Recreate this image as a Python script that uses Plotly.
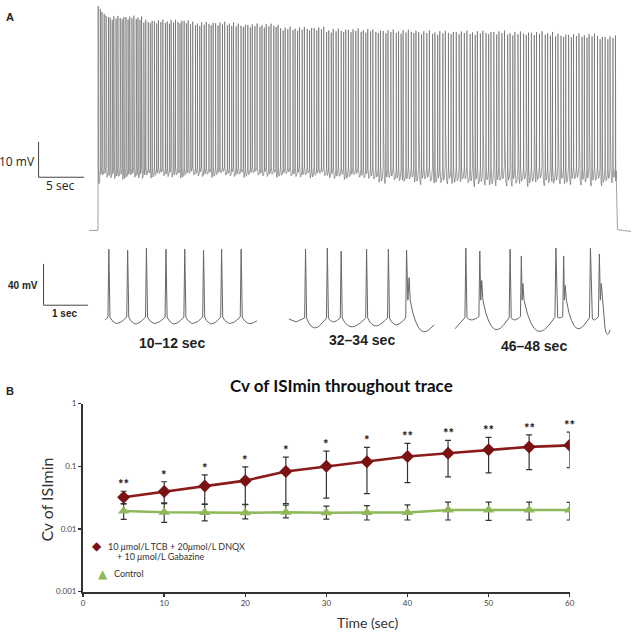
import numpy as np
import plotly.graph_objects as go

W, H = 637, 636

# ---------------- Panel A: long trace (block summaries) ----------------
MAIN_BLOCK_START_S = [0, 5, 10, 15, 20, 25, 30, 35, 40, 45, 50, 55]
MAIN_RATE_HZ = [4.6, 4.3, 4.0, 3.9, 3.8, 3.7, 3.6, 3.4, 3.4, 3.4, 3.5, 3.5]
MAIN_PEAK_MV = [-10.0, -11.1, -11.7, -12.2, -13.1, -13.6, -13.9, -14.2, -14.2, -14.4, -15.0, -15.6]
MAIN_TROUGH_MV = [-54.8, -54.4, -54.2, -54.2, -54.4, -54.8, -55.6, -56.0, -56.4, -56.2, -56.0, -56.0]
MAIN_DOUBLET_EVERY = [0, 0, 0, 0, 0, 0, 7, 5, 4, 3, 4, 4]
MAIN_FIRST_PEAKS_MV = [-6.7, -7.5, -8.3, -8.9, -9.4, -9.8]
MAIN_THRESHOLD_MV = -52.2
MAIN_SPIKELET_MV = -31.0
MAIN_REST_MV = -70.0
MAIN_STIM_END_S = 57.0
JITTER = [0.3, -0.8, 0.6, -0.2, 1.0, -0.6, 0.1, -1.0, 0.7, -0.4, 0.9, -0.1, -0.7, 0.4]

# ---------------- Panel A: insets (spike times, peaks, troughs, thresholds) ----------------
INSET1_T = [10.04, 10.29, 10.54, 10.80, 11.05, 11.30, 11.54, 11.80]
INSET1_PEAK = [11.4, 10.5, 12.4, 11.4, 11.4, 10.5, 11.4, 11.4]
INSET1_TROUGH = [-60.5, -61.0, -60.5, -61.0, -60.5, -61.0, -60.5, -60.5]
INSET1_THR = [-54.3, -54.3, -54.3, -54.3, -54.3, -54.3, -54.3, -54.3]

INSET2_T = [32.23, 32.53, 32.72, 33.07, 33.37, 33.62, 33.655]
INSET2_PEAK = [11.4, 12.4, 9.5, 11.4, 11.4, 10.5, -16.2]
INSET2_TROUGH = [-64.8, -59.0, -63.8, -62.9, -61.9, -38.0, -66.7]
INSET2_THR = [-55.2, -55.2, -55.2, -55.2, -55.2, -55.2, -38.0]

INSET3_T = [46.14, 46.32, 46.345, 46.71, 46.855, 46.875, 47.30, 47.40, 47.42, 47.745, 47.86, 47.885]
INSET3_PEAK = [12.4, 9.5, -19.0, 11.4, 4.8, -21.9, 12.4, 4.8, -23.8, 12.4, 6.7, -21.9]
INSET3_TROUGH = [-57.1, -38.0, -65.7, -57.1, -38.0, -67.6, -55.2, -38.0, -64.8, -57.1, -38.0, -68.6]
INSET3_THR = [-55.0, -54.0, -38.0, -55.0, -54.0, -38.0, -54.5, -54.0, -38.0, -55.0, -54.0, -38.0]

# ---------------- Panel B data ----------------
TIME_S = [5, 10, 15, 20, 25, 30, 35, 40, 45, 50, 55, 60]
DRUG_CV = [0.032, 0.0395, 0.0485, 0.059, 0.0825, 0.100, 0.118, 0.1435, 0.162, 0.183, 0.204, 0.216]
DRUG_HI = [0.040, 0.0567, 0.073, 0.0977, 0.140, 0.174, 0.201, 0.232, 0.259, 0.289, 0.318, 0.351]
DRUG_LO = [0.025, 0.026, 0.0247, 0.0247, 0.0253, 0.031, 0.0367, 0.0547, 0.068, 0.0786, 0.0887, 0.0953]
CTRL_CV = [0.0194, 0.0185, 0.0183, 0.0181, 0.0185, 0.0181, 0.0183, 0.0183, 0.0201, 0.0201, 0.0201, 0.0201]
CTRL_HI = [0.0253, 0.0253, 0.0250, 0.0245, 0.0240, 0.0232, 0.0236, 0.0242, 0.0269, 0.0269, 0.0269, 0.0266]
CTRL_LO = [0.0142, 0.0127, 0.0135, 0.0145, 0.0150, 0.0144, 0.0139, 0.0139, 0.0139, 0.0137, 0.0139, 0.0139]
STARS = ["**", "*", "*", "*", "*", "*", "*", "**", "**", "**", "**", "**"]
XTICK_VALS = [0, 10, 20, 30, 40, 50, 60]
YTICK_VALS = [0.001, 0.01, 0.1, 1]
YTICK_TEXT = ["0.001", "0.01", "0.1", "1"]
DRUG_NAME = "10 <i>μ</i>mol/L TCB + 20<i>μ</i>mol/L DNQX"
DRUG_NAME2 = "+ 10 <i>μ</i>mol/L Gabazine"
CTRL_NAME = "Control"


def pxx(x):
    return x / W


def pxy(y):
    return 1 - y / H


def wave(times, peaks, troughs, thrs, start_pts, end_pt, rise, fall, n_u):
    xs = [p[0] for p in start_pts]
    ys = [p[1] for p in start_pts]
    n = len(times)
    skip_pre = False
    for i in range(n):
        if not skip_pre:
            xs.append(times[i] - rise)
            ys.append(thrs[i])
        skip_pre = False
        xs.append(times[i])
        ys.append(peaks[i])
        if i + 1 < n and times[i + 1] - times[i] < 0.05:
            xs.append(0.5 * (times[i] + times[i + 1]))
            ys.append(troughs[i])
            skip_pre = True
            continue
        ta = times[i] + fall
        if i + 1 < n:
            tb, vb = times[i + 1] - rise, thrs[i + 1]
        else:
            tb, vb = end_pt
        va = thrs[i]
        s = np.linspace(0, 1, n_u + 2)
        lin = va + (vb - va) * s
        shp = np.sin(np.pi * s ** 0.8)
        d = max(0.0, (va + (vb - va) * 0.42) - troughs[i])
        v = lin - d * shp
        xs += list(ta + (tb - ta) * s[:-1])
        ys += list(v[:-1])
    xs.append(end_pt[0])
    ys.append(end_pt[1])
    return xs, ys


# ---- build main trace spike lists from block summaries ----
m_t, m_pk, m_tr, m_th = [], [], [], []
t = 0.03
k = 0
while t < MAIN_STIM_END_S - 0.1:
    b = min(int(t // 5), len(MAIN_BLOCK_START_S) - 1)
    j = JITTER[k % len(JITTER)]
    j2 = JITTER[(k * 5 + 3) % len(JITTER)]
    pk = MAIN_FIRST_PEAKS_MV[k] if k < len(MAIN_FIRST_PEAKS_MV) else MAIN_PEAK_MV[b] + 0.6 * j
    tr = -57.0 if k == 0 else MAIN_TROUGH_MV[b] + 0.9 * j2
    m_t.append(t)
    m_pk.append(pk)
    m_th.append(MAIN_THRESHOLD_MV + 0.5 * j)
    every = MAIN_DOUBLET_EVERY[b]
    if every and k % every == 0 and k > 0:
        m_tr.append(-42.0)
        m_t.append(t + 0.03)
        m_pk.append(MAIN_SPIKELET_MV + 2.0 * j2)
        m_th.append(-42.0)
        m_tr.append(tr - 0.8)
    else:
        m_tr.append(tr)
    t += (1.0 / MAIN_RATE_HZ[b]) * (1 + 0.2 * j)
    k += 1

mx, my = wave(m_t, m_pk, m_tr, m_th,
              [(-0.98, MAIN_REST_MV), (0.0, MAIN_REST_MV)],
              (MAIN_STIM_END_S - 0.05, MAIN_THRESHOLD_MV - 1.0),
              0.01, 0.015, 2)
mx += [MAIN_STIM_END_S + 0.1, 58.6]
my += [MAIN_REST_MV + 0.2, MAIN_REST_MV - 0.3]

i1x, i1y = wave(INSET1_T, INSET1_PEAK, INSET1_TROUGH, INSET1_THR,
                [(9.99, -57.1)], (12.01, -58.0), 0.012, 0.015, 8)
i2x, i2y = wave(INSET2_T, INSET2_PEAK, INSET2_TROUGH, INSET2_THR,
                [(32.0, -56.2), (32.1, -59.0)], (34.0, -61.9), 0.012, 0.015, 8)
i3x, i3y = wave(INSET3_T, INSET3_PEAK, INSET3_TROUGH, INSET3_THR,
                [(46.0, -65.7), (46.07, -60.0)], (48.0, -66.7), 0.012, 0.015, 8)

fig = go.Figure()
fig.add_trace(go.Scatter(x=mx, y=my, mode="lines", line=dict(color="#606060", width=0.6),
                         xaxis="x", yaxis="y", hoverinfo="skip", showlegend=False))
for ax, xx, yy in [("2", i1x, i1y), ("3", i2x, i2y), ("4", i3x, i3y)]:
    fig.add_trace(go.Scatter(x=xx, y=yy, mode="lines", line=dict(color="#666", width=1),
                             xaxis="x" + ax, yaxis="y" + ax, hoverinfo="skip", showlegend=False))

# Panel B series
red_line = "#8b1a1a"
red_mark = "#7a1214"
green = "#8fb85a"
fig.add_trace(go.Scatter(
    x=TIME_S, y=DRUG_CV, mode="lines+markers", xaxis="x5", yaxis="y5",
    line=dict(color=red_line, width=2.6),
    marker=dict(symbol="diamond", size=10, color=red_mark),
    error_y=dict(type="data", symmetric=False,
                 array=[h - v for h, v in zip(DRUG_HI, DRUG_CV)],
                 arrayminus=[v - l for v, l in zip(DRUG_CV, DRUG_LO)],
                 color="#333333", thickness=1.2, width=3),
    showlegend=False))
fig.add_trace(go.Scatter(
    x=TIME_S, y=CTRL_CV, mode="lines+markers", xaxis="x5", yaxis="y5",
    line=dict(color=green, width=2.6),
    marker=dict(symbol="triangle-up", size=10, color=green),
    error_y=dict(type="data", symmetric=False,
                 array=[h - v for h, v in zip(CTRL_HI, CTRL_CV)],
                 arrayminus=[v - l for v, l in zip(CTRL_CV, CTRL_LO)],
                 color="#333333", thickness=1.2, width=3),
    showlegend=False))


def mv_main(p):
    return MAIN_REST_MV + (229 - p) / 3.6


def mv_inset(p):
    return -60 - (p - 323) / 1.05


hidden = dict(visible=False, showgrid=False, zeroline=False, fixedrange=True)
layout = dict(
    width=W, height=H, margin=dict(l=0, r=0, t=0, b=0), autosize=False,
    paper_bgcolor="white", plot_bgcolor="rgba(0,0,0,0)", showlegend=False,
    xaxis=dict(hidden, domain=[pxx(88), pxx(636)], range=[(88 - 97) / 9.2, (636 - 97) / 9.2], anchor="y"),
    yaxis=dict(hidden, domain=[pxy(236), pxy(0)], range=[mv_main(236), mv_main(0)], anchor="x"),
    xaxis2=dict(hidden, domain=[pxx(104), pxx(258)], range=[10 + (104 - 105) / 76, 10 + (258 - 105) / 76], anchor="y2"),
    yaxis2=dict(hidden, domain=[pxy(336), pxy(244)], range=[mv_inset(336), mv_inset(244)], anchor="x2"),
    xaxis3=dict(hidden, domain=[pxx(289), pxx(438)], range=[32 + (289 - 290) / 73.5, 32 + (438 - 290) / 73.5], anchor="y3"),
    yaxis3=dict(hidden, domain=[pxy(336), pxy(244)], range=[mv_inset(336), mv_inset(244)], anchor="x3"),
    xaxis4=dict(hidden, domain=[pxx(457), pxx(616)], range=[46 + (457 - 458) / 78.5, 46 + (616 - 458) / 78.5], anchor="y4"),
    yaxis4=dict(hidden, domain=[pxy(336), pxy(244)], range=[mv_inset(336), mv_inset(244)], anchor="x4"),
    xaxis5=dict(domain=[pxx(82), pxx(574)], range=[0, 60], anchor="y5", tickvals=XTICK_VALS,
                showline=True, linewidth=2, linecolor="#333", ticks="outside", ticklen=3, tickwidth=1.5,
                tickcolor="#333", showgrid=False, zeroline=False,
                tickfont=dict(family="Lato", size=8, color="#444")),
    yaxis5=dict(domain=[pxy(596), pxy(405)], type="log", range=[-3, 0], anchor="x5",
                tickvals=YTICK_VALS, ticktext=YTICK_TEXT,
                showline=True, linewidth=2, linecolor="#333", ticks="outside", ticklen=3, tickwidth=1.5,
                tickcolor="#333", showgrid=False, zeroline=False,
                tickfont=dict(family="Lato", size=8, color="#444")),
)
fig.update_layout(**layout)

shapes = []
bar = dict(color="#444", width=1)
for x0, y0, x1, y1 in [(37, 139, 37, 175), (37, 175, 83, 175), (42, 263, 42, 305), (42, 305, 87, 305)]:
    shapes.append(dict(type="line", xref="paper", yref="paper", x0=pxx(x0), y0=pxy(y0),
                       x1=pxx(x1), y1=pxy(y1), line=bar))
fig.update_layout(shapes=shapes)

ann = []


def add_text(text, x, y, size, family, color="#222", xanchor="center", bold=False, angle=0):
    ann.append(dict(text=("<b>%s</b>" % text) if bold else text, x=pxx(x), y=pxy(y),
                    xref="paper", yref="paper", showarrow=False, xanchor=xanchor, yanchor="middle",
                    textangle=angle, font=dict(family=family, size=size, color=color)))


add_text("A", 2, 12, 11, "Liberation Sans", xanchor="left", bold=True)
add_text("B", 2, 392, 11, "Liberation Sans", xanchor="left", bold=True)
add_text("10 mV", 35, 159, 12, "Open Sans", xanchor="right", color="#222")
add_text("5 sec", 59, 183, 12, "Open Sans", color="#222")
add_text("40 mV", 38, 285, 10, "Liberation Sans", xanchor="right", bold=True)
add_text("1 sec", 63, 313, 10, "Liberation Sans", bold=True)
add_text("10–12 sec", 172, 343, 14, "Liberation Sans", bold=True)
add_text("32–34 sec", 364, 340, 14, "Liberation Sans", bold=True)
add_text("46–48 sec", 538, 346, 14, "Liberation Sans", bold=True)
add_text("Cv of ISImin throughout trace", 343, 387, 17, "Lato", bold=True, color="#111")
add_text("Cv of ISImin", 45, 503, 16, "Lato", color="#333", angle=-90)
add_text("Time (sec)", 370, 627, 14, "Lato", color="#333")
add_text("◆", 96, 550, 12, "DejaVu Sans", color=red_mark)
add_text(DRUG_NAME, 105, 550, 9, "Lato", xanchor="left", color="#333")
add_text(DRUG_NAME2, 114, 560, 9, "Lato", xanchor="left", color="#333")
add_text("▲", 102, 578, 12, "DejaVu Sans", color=green)
add_text(CTRL_NAME, 111, 578, 9, "Lato", xanchor="left", color="#333")

for tt, hi, st in zip(TIME_S, DRUG_HI, STARS):
    ann.append(dict(text="<b>%s</b>" % st, x=tt, y=np.log10(hi), xref="x5", yref="y5", showarrow=False,
                    xanchor="center", yanchor="bottom", yshift=-3,
                    font=dict(family="Lato", size=13, color="#111")))

fig.update_layout(annotations=ann)
fig.write_html("out.html", config={"staticPlot": True},
               post_script="document.body.style.margin='0';document.body.style.overflow='hidden';")
